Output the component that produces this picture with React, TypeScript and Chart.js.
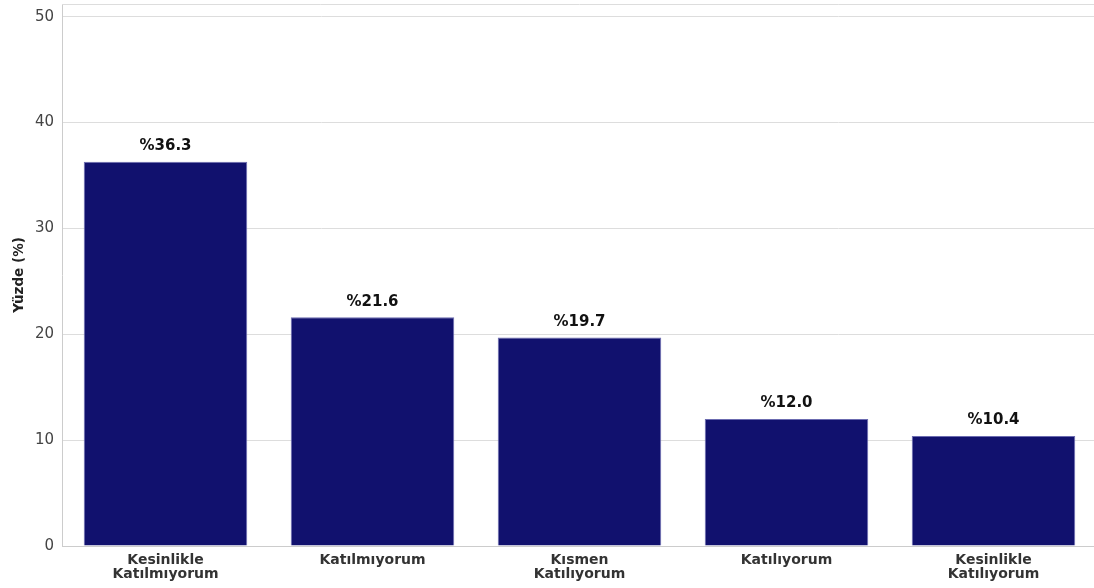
import React, { useEffect, useRef } from "react";
import { Chart, registerables } from "chart.js";

Chart.register(...registerables);

const categories: string[][] = [
  ["Kesinlikle", "Katılmıyorum"],
  ["Katılmıyorum"],
  ["Kısmen", "Katılıyorum"],
  ["Katılıyorum"],
  ["Kesinlikle", "Katılıyorum"],
];
const percentages: number[] = [36.3, 21.6, 19.7, 12.0, 10.4];
const valueLabels: string[] = ["%36.3", "%21.6", "%19.7", "%12.0", "%10.4"];
const yTicks: number[] = [0, 10, 20, 30, 40, 50];
const yTitle = "Yüzde (%)";

const FONT = "'DejaVu Sans', sans-serif";

const decor = {
  id: "decor",
  afterDatasetsDraw(chart: any) {
    const ctx = chart.ctx;
    const area = chart.chartArea;
    ctx.save();
    ctx.strokeStyle = "#dddddd";
    ctx.lineWidth = 1;
    ctx.beginPath();
    ctx.moveTo(area.left, Math.round(area.top) + 0.5);
    ctx.lineTo(area.right, Math.round(area.top) + 0.5);
    ctx.stroke();
    const meta = chart.getDatasetMeta(0);
    ctx.fillStyle = "#111111";
    ctx.font = `bold 15px ${FONT}`;
    ctx.textAlign = "center";
    ctx.textBaseline = "bottom";
    meta.data.forEach((bar: any, i: number) => {
      ctx.fillText(valueLabels[i], bar.x, bar.y - 8);
    });
    ctx.restore();
  },
};

export default function App() {
  const ref = useRef<HTMLCanvasElement | null>(null);
  useEffect(() => {
    if (!ref.current) return;
    const chart = new Chart(ref.current, {
      type: "bar",
      data: {
        labels: categories,
        datasets: [
          {
            data: percentages,
            backgroundColor: "#11116e",
            borderColor: "#6b6bb0",
            borderWidth: 1,
            categoryPercentage: 0.79,
            barPercentage: 1,
          },
        ],
      },
      options: {
        animation: false,
        responsive: false,
        maintainAspectRatio: false,
        layout: { padding: { top: 4, right: 0, left: 0, bottom: 0 } },
        plugins: {
          legend: { display: false },
          tooltip: { enabled: false },
        },
        scales: {
          x: {
            grid: { display: false, drawTicks: false },
            border: { color: "#cccccc", width: 1 },
            ticks: {
              color: "#333333",
              font: { family: FONT, size: 14, weight: "bold", lineHeight: 1.0 },
              padding: 7,
              maxRotation: 0,
              autoSkip: false,
            },
            afterFit(scale: any) {
              scale.height = 42;
              scale.paddingLeft = 0;
              scale.paddingRight = 0;
            },
          },
          y: {
            min: 0,
            max: 51.2,
            afterBuildTicks(scale: any) {
              scale.ticks = yTicks.map((v) => ({ value: v }));
            },
            grid: { color: "#dddddd", drawTicks: false },
            border: { color: "#cccccc", width: 1 },
            ticks: {
              color: "#444444",
              font: { family: FONT, size: 15 },
              padding: 8,
            },
            title: {
              display: true,
              text: yTitle,
              color: "#222222",
              font: { family: FONT, size: 13.5, weight: "bold" },
              padding: { top: 11, bottom: 4 },
            },
            afterFit(scale: any) {
              scale.width = 62;
              scale.paddingTop = 0;
              scale.paddingBottom = 0;
            },
          },
        },
      },
      plugins: [decor],
    });
    return () => chart.destroy();
  }, []);
  return (
    <div style={{ position: "fixed", left: 0, top: 0, width: 1094, height: 588, overflow: "hidden", background: "#fff" }}>
      <canvas ref={ref} width={1097} height={588} style={{ display: "block" }} />
    </div>
  );
}
